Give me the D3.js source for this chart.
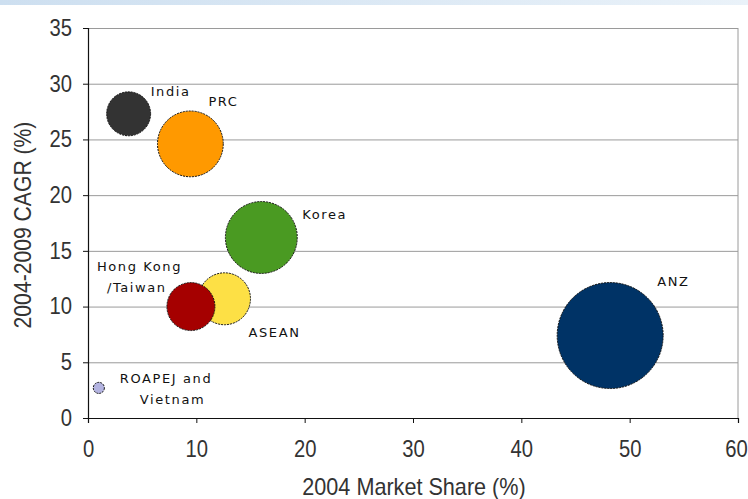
<!DOCTYPE html>
<html>
<head>
<meta charset="utf-8">
<script src="https://cdn.jsdelivr.net/npm/d3@7"></script>
<style>
  body { margin: 0; background: #fff; }
  #chart { width: 748px; height: 499px; }
</style>
</head>
<body>
<div id="chart"></div>
<script>
// data
const regions   = ["ANZ", "Korea", "PRC", "ASEAN", "Hong Kong/Taiwan", "India", "ROAPEJ and Vietnam"];
const share2004 = [48.2, 16.0, 9.45, 12.6, 9.5, 3.75, 1.0];
const cagr      = [7.4, 16.2, 24.6, 10.7, 10.0, 27.3, 2.7];
const bubbleSize = [100, 46, 38.5, 24, 20.5, 17.2, 1.1];
const colors    = ["#003366", "#4a9a22", "#ff9900", "#fde045", "#a50000", "#333333", "#b3b3e0"];
const labelLines = [["ANZ"], ["Korea"], ["PRC"], ["ASEAN"], ["Hong Kong", "/Taiwan"], ["India"], ["ROAPEJ and", "Vietnam"]];
const xTicks = [0, 10, 20, 30, 40, 50, 60];
const yTicks = [0, 5, 10, 15, 20, 25, 30, 35];

const margin = { top: 28, right: 10, bottom: 81, left: 88 },
      W = 748, H = 499,
      width = W - margin.left - margin.right,
      height = H - margin.top - margin.bottom;

const axisFont = "'Liberation Sans', Arial, sans-serif";
const squeeze = 0.88; // the picture's axis font is a bit condensed

const root = d3.select("#chart").append("svg")
  .attr("width", W).attr("height", H);

// faint blue band along the top edge
const grad = root.append("defs").append("linearGradient").attr("id", "band");
grad.append("stop").attr("offset", "0%").attr("stop-color", "#cddff0");
grad.append("stop").attr("offset", "100%").attr("stop-color", "#eaf2f9");
root.append("rect").attr("x", 0).attr("y", 0).attr("width", W).attr("height", 5).attr("fill", "url(#band)");

const svg = root.append("g").attr("transform", `translate(${margin.left},${margin.top})`);

const x = d3.scaleLinear().domain([0, 60]).range([0, width]);
const y = d3.scaleLinear().domain([0, 35]).range([height, 0]);
const r = d3.scaleSqrt().domain([0, d3.max(bubbleSize)]).range([0, 53]);

// gridlines + frame
svg.append("g")
  .call(d3.axisLeft(y).tickValues(yTicks).tickSize(-width).tickFormat(""))
  .call(g => g.select(".domain").remove())
  .selectAll("line").attr("stroke", "#9a9a9a");
svg.append("line").attr("x1", width).attr("x2", width).attr("y1", 0).attr("y2", height).attr("stroke", "#9a9a9a");

// axes
const yAxis = svg.append("g")
  .call(d3.axisLeft(y).tickValues(yTicks).tickSize(5));
const xAxis = svg.append("g").attr("transform", `translate(0,${height})`)
  .call(d3.axisBottom(x).tickValues(xTicks).tickSize(5));
[xAxis, yAxis].forEach(a => {
  a.select(".domain").attr("stroke", "#111").attr("stroke-width", 1.2);
  a.selectAll(".tick line").attr("stroke", "#111");
  a.selectAll("text").attr("fill", "#333").style("font-family", axisFont).style("font-size", "23px")
    .attr("transform", `scale(${squeeze},1)`);
});
yAxis.selectAll("text").attr("x", -16 / squeeze);
xAxis.selectAll("text").attr("y", 39).attr("dy", 0)
  .attr("x", d => d === 60 ? -2 / squeeze : 0); // keep the last label inside the page

// bubbles
const data = regions.map((name, i) => ({
  name, x: share2004[i], y: cagr[i], size: bubbleSize[i], color: colors[i], lines: labelLines[i]
}));

svg.selectAll("circle.bubble")
  .data(data)
  .join("circle")
  .attr("class", "bubble")
  .attr("cx", d => x(d.x))
  .attr("cy", d => y(d.y))
  .attr("r", d => r(d.size))
  .attr("fill", d => d.color)
  .attr("stroke", "#111")
  .attr("stroke-width", 1)
  .attr("stroke-dasharray", "2,1");

// labels placed beside each bubble (offsets in px from bubble centre)
const labelOffset = {
  "ANZ": [47, -50],
  "Korea": [41, -18],
  "PRC": [18, -38],
  "ASEAN": [24, 38],
  "Hong Kong/Taiwan": [-94, -36],
  "India": [22, -18],
  "ROAPEJ and Vietnam": [21, -5]
};
const lineIndent = { "/Taiwan": 10, "Vietnam": 20 };

const labels = svg.selectAll("text.lbl")
  .data(data)
  .join("text")
  .attr("class", "lbl")
  .attr("transform", d => `translate(${x(d.x) + labelOffset[d.name][0]},${y(d.y) + labelOffset[d.name][1]})`)
  .style("font-family", "'DejaVu Sans', Verdana, sans-serif")
  .style("font-size", "13px")
  .style("letter-spacing", "1.6px")
  .attr("fill", "#111");
labels.selectAll("tspan")
  .data(d => d.lines)
  .join("tspan")
  .attr("x", t => lineIndent[t] || 0)
  .attr("dy", (t, i) => i === 0 ? 0 : 21.5)
  .text(t => t);

// axis titles
root.append("text")
  .attr("transform", `translate(414,495) scale(0.94,1)`)
  .attr("text-anchor", "middle")
  .attr("fill", "#333")
  .style("font-family", axisFont)
  .style("font-size", "23px")
  .text("2004 Market Share (%)");

root.append("text")
  .attr("transform", `translate(31,225) rotate(-90) scale(0.92,1)`)
  .attr("text-anchor", "middle")
  .attr("fill", "#333")
  .style("font-family", axisFont)
  .style("font-size", "23px")
  .text("2004-2009 CAGR (%)");
</script>
</body>
</html>
